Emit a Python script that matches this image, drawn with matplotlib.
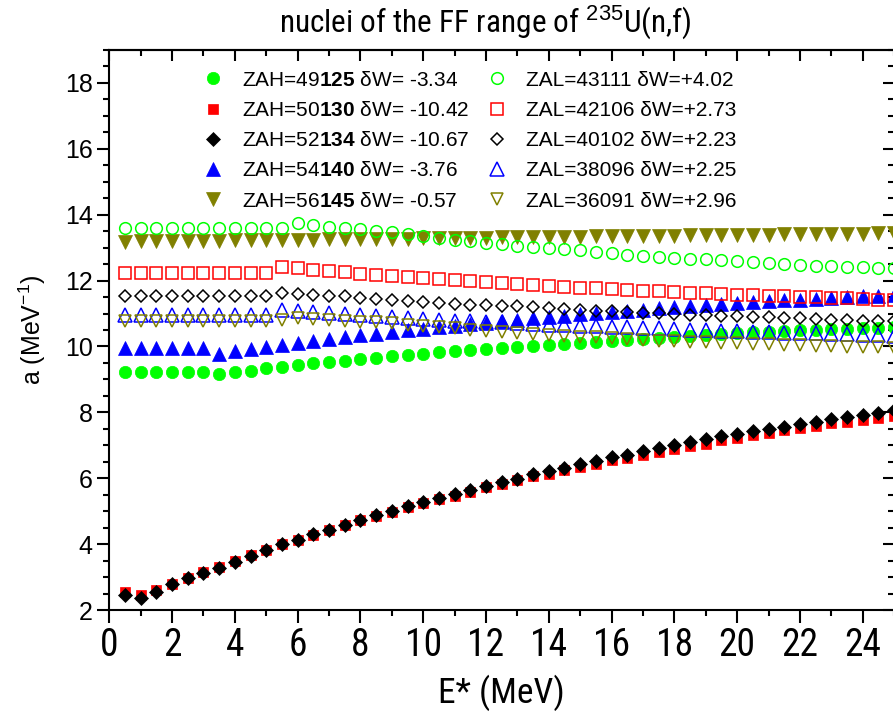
import matplotlib
matplotlib.use('Agg')
import matplotlib.pyplot as plt
from matplotlib import font_manager
from matplotlib.ticker import MultipleLocator

# excitation energy grid (MeV)
e_star = [0.5, 1.0, 1.5, 2.0, 2.5, 3.0, 3.5, 4.0, 4.5, 5.0,
          5.5, 6.0, 6.5, 7.0, 7.5, 8.0, 8.5, 9.0, 9.5, 10.0,
          10.5, 11.0, 11.5, 12.0, 12.5, 13.0, 13.5, 14.0, 14.5, 15.0,
          15.5, 16.0, 16.5, 17.0, 17.5, 18.0, 18.5, 19.0, 19.5, 20.0,
          20.5, 21.0, 21.5, 22.0, 22.5, 23.0, 23.5, 24.0, 24.5, 25.0]

# heavy fragments (filled symbols)
a_49125 = [9.22, 9.22, 9.22, 9.22, 9.22, 9.22, 9.17, 9.22, 9.27, 9.34,
           9.37, 9.44, 9.49, 9.54, 9.57, 9.62, 9.65, 9.70, 9.74, 9.77,
           9.82, 9.85, 9.89, 9.92, 9.94, 9.98, 10.01, 10.05, 10.08, 10.11,
           10.15, 10.18, 10.21, 10.23, 10.26, 10.29, 10.32, 10.35, 10.38, 10.41,
           10.43, 10.45, 10.47, 10.49, 10.51, 10.53, 10.54, 10.55, 10.57, 10.58]
a_50130 = [2.56, 2.45, 2.60, 2.80, 2.98, 3.15, 3.31, 3.48, 3.66, 3.83,
           3.99, 4.14, 4.29, 4.43, 4.58, 4.72, 4.86, 4.99, 5.12, 5.25,
           5.36, 5.47, 5.59, 5.72, 5.84, 5.94, 6.06, 6.14, 6.24, 6.34,
           6.42, 6.54, 6.62, 6.71, 6.79, 6.90, 6.98, 7.05, 7.15, 7.22,
           7.30, 7.37, 7.45, 7.52, 7.60, 7.67, 7.72, 7.78, 7.83, 7.89]
a_52134 = [2.45, 2.35, 2.56, 2.78, 2.96, 3.13, 3.29, 3.46, 3.65, 3.82,
           3.99, 4.14, 4.30, 4.44, 4.59, 4.73, 4.88, 5.01, 5.15, 5.28,
           5.40, 5.51, 5.63, 5.75, 5.88, 5.99, 6.12, 6.22, 6.32, 6.44,
           6.52, 6.64, 6.72, 6.82, 6.92, 7.02, 7.10, 7.18, 7.27, 7.33,
           7.42, 7.50, 7.57, 7.65, 7.72, 7.80, 7.85, 7.93, 7.98, 8.06]
a_54140 = [9.95, 9.95, 9.95, 9.95, 9.95, 9.95, 9.78, 9.85, 9.92, 9.99,
           10.05, 10.11, 10.17, 10.23, 10.29, 10.34, 10.39, 10.44, 10.49, 10.54,
           10.59, 10.63, 10.68, 10.72, 10.77, 10.81, 10.85, 10.90, 10.94, 10.98,
           11.02, 11.06, 11.09, 11.12, 11.16, 11.19, 11.22, 11.26, 11.29, 11.32,
           11.34, 11.37, 11.40, 11.42, 11.44, 11.47, 11.50, 11.52, 11.54, 11.56]
a_56145 = [13.18, 13.19, 13.19, 13.20, 13.20, 13.21, 13.21, 13.22, 13.22, 13.23,
           13.23, 13.24, 13.24, 13.25, 13.25, 13.26, 13.26, 13.27, 13.27, 13.28,
           13.28, 13.29, 13.29, 13.30, 13.31, 13.31, 13.32, 13.32, 13.33, 13.33,
           13.34, 13.34, 13.35, 13.35, 13.36, 13.36, 13.37, 13.37, 13.38, 13.38,
           13.39, 13.39, 13.40, 13.40, 13.41, 13.41, 13.42, 13.42, 13.43, 13.43]

# light fragments (open symbols)
a_43111 = [13.61, 13.61, 13.61, 13.61, 13.61, 13.61, 13.61, 13.61, 13.61, 13.61,
           13.61, 13.76, 13.69, 13.64, 13.59, 13.56, 13.51, 13.46, 13.41, 13.34,
           13.29, 13.24, 13.19, 13.15, 13.10, 13.05, 13.02, 12.98, 12.95, 12.92,
           12.87, 12.83, 12.79, 12.75, 12.72, 12.70, 12.67, 12.65, 12.63, 12.60,
           12.55, 12.52, 12.50, 12.47, 12.45, 12.43, 12.42, 12.40, 12.38, 12.37]
a_42106 = [12.22, 12.22, 12.22, 12.22, 12.22, 12.22, 12.22, 12.22, 12.22, 12.22,
           12.40, 12.37, 12.33, 12.28, 12.25, 12.20, 12.17, 12.15, 12.12, 12.09,
           12.06, 12.02, 11.99, 11.96, 11.92, 11.89, 11.87, 11.84, 11.82, 11.79,
           11.77, 11.74, 11.72, 11.69, 11.67, 11.64, 11.62, 11.61, 11.59, 11.57,
           11.56, 11.54, 11.52, 11.51, 11.49, 11.47, 11.46, 11.44, 11.42, 11.41]
a_40102 = [11.52, 11.52, 11.52, 11.52, 11.52, 11.52, 11.52, 11.52, 11.52, 11.52,
           11.62, 11.59, 11.56, 11.54, 11.52, 11.47, 11.44, 11.41, 11.37, 11.34,
           11.32, 11.29, 11.27, 11.26, 11.24, 11.22, 11.19, 11.16, 11.14, 11.12,
           11.09, 11.07, 11.06, 11.03, 11.01, 10.98, 10.96, 10.95, 10.93, 10.92,
           10.90, 10.88, 10.86, 10.85, 10.83, 10.81, 10.80, 10.78, 10.77, 10.76]
a_38096 = [10.95, 10.95, 10.95, 10.95, 10.95, 10.95, 10.95, 10.95, 10.95, 10.95,
           11.12, 11.07, 11.04, 11.02, 10.99, 10.95, 10.93, 10.90, 10.86, 10.83,
           10.81, 10.78, 10.76, 10.75, 10.73, 10.70, 10.68, 10.66, 10.65, 10.63,
           10.61, 10.60, 10.58, 10.56, 10.55, 10.53, 10.51, 10.50, 10.48, 10.46,
           10.45, 10.43, 10.42, 10.41, 10.40, 10.38, 10.37, 10.36, 10.35, 10.33]
a_36091 = [10.77, 10.77, 10.77, 10.77, 10.77, 10.77, 10.77, 10.77, 10.77, 10.77,
           10.79, 10.85, 10.83, 10.81, 10.78, 10.75, 10.73, 10.70, 10.66, 10.62,
           10.58, 10.55, 10.51, 10.48, 10.44, 10.41, 10.38, 10.36, 10.33, 10.30,
           10.28, 10.25, 10.23, 10.20, 10.18, 10.16, 10.14, 10.13, 10.11, 10.10,
           10.08, 10.06, 10.05, 10.03, 10.02, 10.01, 9.99, 9.98, 9.97, 9.95]

heavy_labels = [r'ZAH=49$\mathbf{125}$ δW= -3.34',
                r'ZAH=50$\mathbf{130}$ δW= -10.42',
                r'ZAH=52$\mathbf{134}$ δW= -10.67',
                r'ZAH=54$\mathbf{140}$ δW= -3.76',
                r'ZAH=56$\mathbf{145}$ δW= -0.57']
light_labels = ['ZAL=43111 δW=+4.02',
                'ZAL=42106 δW=+2.73',
                'ZAL=40102 δW=+2.23',
                'ZAL=38096 δW=+2.25',
                'ZAL=36091 δW=+2.96']

heavy = [a_49125, a_50130, a_52134, a_54140, a_56145]
light = [a_43111, a_42106, a_40102, a_38096, a_36091]
colors = ['#00ff00', '#ff0000', '#000000', '#0000ff', '#808000']
markers = ['o', 's', 'D', '^', 'v']
ms_filled = [8.9, 7.7, 6.8, 10.5, 10.5]
ms_open = [8.4, 8.2, 6.6, 9.5, 9.0]


def has_font(name):
  try:
    font_manager.findfont(font_manager.FontProperties(family=name), fallback_to_default=False)
    return True
  except Exception:
    return False

regular = 'Liberation Sans'
narrow = None
for cand in ['Liberation Sans Narrow', 'Arial Narrow', 'Roboto Condensed',
             'Open Sans Condensed', 'DejaVu Sans Condensed']:
  if has_font(cand):
    narrow = cand
    break
if narrow is None:
  # no condensed face: shrink the regular one so widths come out right
  narrow = regular
  fs_title, fs_xlab, fs_xtick = 20, 22, 22
else:
  fs_title, fs_xlab, fs_xtick = 22.5, 25.5, 27

plt.rcParams['font.family'] = regular
plt.rcParams['mathtext.fontset'] = 'custom'
plt.rcParams['mathtext.rm'] = regular
plt.rcParams['mathtext.it'] = regular + ':italic'
plt.rcParams['mathtext.bf'] = regular + ':bold'

W, H = 893, 714
fig = plt.figure(figsize=(W/100, H/100), dpi=100)
ax = fig.add_axes([109.3/W, 1-610/H, 784.8/W, 560/H])

handles = []
for y, c, m, ms in zip(heavy, colors, markers, ms_filled):
  h, = ax.plot(e_star, y, ls='none', marker=m, ms=ms, color=c, mec=c, mew=0.5)
  handles.append(h)
for y, c, m, ms in zip(light, colors, markers, ms_open):
  h, = ax.plot(e_star, y, ls='none', marker=m, ms=ms, mfc='none', mec=c, mew=1.1)
  handles.append(h)

ax.set_xlim(0, 25)
ax.set_ylim(2, 19)

xt = list(range(0, 25, 2))
yt = list(range(2, 19, 2))
ax.set_xticks(xt, labels=[str(v) for v in xt], fontfamily=narrow, fontsize=fs_xtick)
ax.set_yticks(yt, labels=[str(v) for v in yt], fontfamily=regular, fontsize=18)
ax.xaxis.set_minor_locator(MultipleLocator(1))
ax.yaxis.set_minor_locator(MultipleLocator(0.5))
ax.tick_params(which='both', direction='out', width=1.5)
ax.tick_params(which='major', length=9, pad=3)
ax.tick_params(which='minor', length=4.5)
for s in ax.spines.values(): s.set_linewidth(1.5)

# top and right axes carry inward ticks only
secx = ax.secondary_xaxis('top')
secx.set_xticks(xt)
secx.xaxis.set_minor_locator(MultipleLocator(1))
secx.tick_params(which='both', direction='in', width=1.5, labeltop=False)
secx.tick_params(which='major', length=8)
secx.tick_params(which='minor', length=4.5)
secx.spines['top'].set_linewidth(1.5)
secy = ax.secondary_yaxis('right')
secy.set_yticks(yt)
secy.yaxis.set_minor_locator(MultipleLocator(0.5))
secy.tick_params(which='both', direction='in', width=1.5, labelright=False)
secy.tick_params(which='major', length=8)
secy.tick_params(which='minor', length=4.5)

ax.set_xlabel('E* (MeV)', fontfamily=narrow, fontsize=fs_xlab)
ax.xaxis.set_label_coords(0.5, -0.115)
ax.set_ylabel(r'a (MeV$^{-1}$)', fontfamily=regular, fontsize=18)
ax.yaxis.set_label_coords(-0.078, 0.5)

fig.text(485/W, 1-32/H, r'nuclei of the FF range of $^{235}$U(n,f)',
         ha='center', va='baseline', fontfamily=narrow, fontsize=fs_title)

ax.legend(handles, heavy_labels + light_labels, ncol=2, loc='upper left',
          bbox_to_anchor=(0.119, 0.963), frameon=False, fontsize=15,
          handlelength=1.0, handletextpad=0.9, columnspacing=0.8,
          labelspacing=0.54, borderpad=0, borderaxespad=0)

fig.savefig('out.png', dpi=100)
